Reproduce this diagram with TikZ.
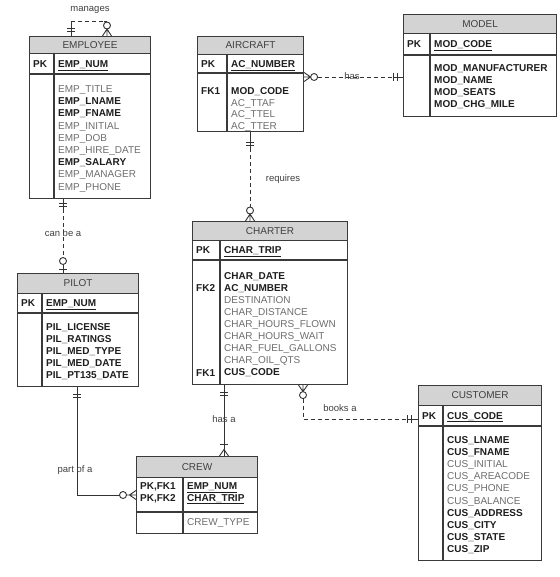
\documentclass[tikz,border=0pt]{standalone}
\usepackage{fontspec}
\setmainfont{Liberation Sans}
\usetikzlibrary{calc}
\definecolor{bord}{HTML}{3A3A3A}
\definecolor{hdrfill}{HTML}{D3D3D3}
\definecolor{hdrtext}{HTML}{404040}
\definecolor{gtext}{HTML}{6E6E6E}
\definecolor{btext}{HTML}{1E1E1E}
\definecolor{lnk}{HTML}{333333}
\newcommand{\Bf}{\color{btext}\bfseries}
\newcommand{\Gf}{\color{gtext}}
\tikzset{
  entbox/.style={draw=bord, line width=1.1pt, fill=white, inner sep=0pt, anchor=north west},
  hdrbox/.style={draw=bord, line width=1.1pt, fill=hdrfill, inner sep=0pt, anchor=north west,
                 text=hdrtext, font=\fontsize{10}{12}\selectfont},
  divline/.style={draw=bord, line width=1.1pt},
  fld/.style={anchor=base west, inner sep=0pt, font=\fontsize{10}{12}\selectfont},
  kfld/.style={fld, text=btext, font=\fontsize{10}{12}\selectfont\bfseries},
  rel/.style={draw=lnk, line width=0.9pt},
  reld/.style={rel, dash pattern=on 4pt off 3pt},
  opt/.style={draw=lnk, line width=0.9pt, fill=white},
  lbl/.style={inner sep=0pt, text=hdrtext, font=\fontsize{9.5}{11}\selectfont},
}
% #1 name, #2 x1, #3 top, #4 x2, #5 header bottom, #6 key row bottom, #7 bottom, #8 separator x, #9 title
\newcommand{\erent}[9]{%
  \node[entbox, minimum width={#4-#2}, minimum height={#7-#3}] (#1) at (#2,#3) {};
  \node[hdrbox, minimum width={#4-#2}, minimum height={#5-#3}] (#1-h) at (#2,#3) {#9};
  \draw[divline] (#2,#6) -- (#4,#6);
  \draw[divline] (#8,#5) -- (#8,#7);
}
% #1 prefix, #2 x, #3 first baseline, #4 step, #5 list
\newcommand{\erfields}[5]{%
  \foreach \t [count=\i] in {#5} \node[fld] (#1-\i) at (#2,{#3+(\i-1)*#4}) {\t};
}
\begin{document}
\begin{tikzpicture}[x=1pt,y=-1pt]
\fill[white] (0,0) rectangle (559,577);
\useasboundingbox (0,0) rectangle (559,577);

% ---------------- EMPLOYEE
\erent{emp}{29}{36}{150}{53}{74}{198}{54}{EMPLOYEE}
\node[kfld] (emp-pk) at (33,67.5) {PK};
\node[kfld] (emp-key) at (58,67.5) {\underline{EMP\_NUM}};
\erfields{emp-a}{58}{92.5}{12.2}{{\Gf EMP\_TITLE},{\Bf EMP\_LNAME},{\Bf EMP\_FNAME},{\Gf EMP\_INITIAL},{\Gf EMP\_DOB},{\Gf EMP\_HIRE\_DATE},{\Bf EMP\_SALARY},{\Gf EMP\_MANAGER},{\Gf EMP\_PHONE}}

% ---------------- AIRCRAFT
\erent{air}{197}{36}{303}{54}{73}{131}{227}{AIRCRAFT}
\node[kfld] (air-pk) at (201,67.5) {PK};
\node[kfld] (air-key) at (231,67.5) {\underline{AC\_NUMBER}};
\node[kfld] (air-fk) at (201,94.5) {FK1};
\erfields{air-a}{231}{94.5}{11.7}{{\Bf MOD\_CODE},{\Gf AC\_TTAF},{\Gf AC\_TTEL},{\Gf AC\_TTER}}

% ---------------- MODEL
\erent{mod}{403}{14}{556}{33}{55}{116}{430}{MODEL}
\node[kfld] (mod-pk) at (407,47.5) {PK};
\node[kfld] (mod-key) at (434,47.5) {\underline{MOD\_CODE}};
\erfields{mod-a}{434}{71.5}{12}{{\Bf MOD\_MANUFACTURER},{\Bf MOD\_NAME},{\Bf MOD\_SEATS},{\Bf MOD\_CHG\_MILE}}

% ---------------- CHARTER
\erent{cha}{192}{221}{347}{240}{260}{384}{220}{CHARTER}
\node[kfld] (cha-pk) at (196,253.5) {PK};
\node[kfld] (cha-key) at (224,253.5) {\underline{CHAR\_TRIP}};
\node[kfld] (cha-fk2) at (196,291.5) {FK2};
\node[kfld] (cha-fk1) at (196,376) {FK1};
\erfields{cha-a}{224}{279.5}{12.05}{{\Bf CHAR\_DATE},{\Bf AC\_NUMBER},{\Gf DESTINATION},{\Gf CHAR\_DISTANCE},{\Gf CHAR\_HOURS\_FLOWN},{\Gf CHAR\_HOURS\_WAIT},{\Gf CHAR\_FUEL\_GALLONS},{\Gf CHAR\_OIL\_QTS},{\Bf CUS\_CODE}}

% ---------------- PILOT
\erent{pil}{17}{273}{138}{293}{313}{386}{42}{PILOT}
\node[kfld] (pil-pk) at (21,306.5) {PK};
\node[kfld] (pil-key) at (46,306.5) {\underline{EMP\_NUM}};
\erfields{pil-a}{46}{330.5}{12}{{\Bf PIL\_LICENSE},{\Bf PIL\_RATINGS},{\Bf PIL\_MED\_TYPE},{\Bf PIL\_MED\_DATE},{\Bf PIL\_PT135\_DATE}}

% ---------------- CREW
\erent{crw}{136}{456}{257}{477}{512}{533}{183}{CREW}
\node[kfld] (crw-pk1) at (140,489.5) {PK,FK1};
\node[kfld] (crw-pk2) at (140,501) {PK,FK2};
\node[kfld] (crw-key1) at (187,489.5) {\underline{EMP\_NUM}};
\node[kfld] (crw-key2) at (187,501) {\underline{CHAR\_TRIP}};
\node[fld, text=gtext] (crw-a1) at (187,525.5) {CREW\_TYPE};

% ---------------- CUSTOMER
\erent{cus}{418}{385}{541}{405}{426}{560}{443}{CUSTOMER}
\node[kfld] (cus-pk) at (422,419) {PK};
\node[kfld] (cus-key) at (447,419) {\underline{CUS\_CODE}};
\erfields{cus-a}{447}{443.5}{12.1}{{\Bf CUS\_LNAME},{\Bf CUS\_FNAME},{\Gf CUS\_INITIAL},{\Gf CUS\_AREACODE},{\Gf CUS\_PHONE},{\Gf CUS\_BALANCE},{\Bf CUS\_ADDRESS},{\Bf CUS\_CITY},{\Bf CUS\_STATE},{\Bf CUS\_ZIP}}

% ================= relationships
% manages (EMPLOYEE -> EMPLOYEE)
\coordinate (m1) at ($(emp.north west)+(42,0)$);
\coordinate (m2) at ($(emp.north west)+(78,0)$);
\coordinate (m1t) at ($(m1)+(0,-15)$);
\coordinate (m2t) at (m1t -| m2);
\draw[rel] (m1) -- (m1t);
\draw[reld] (m1t) -- ($(m2t)+(-3.5,0)$);
\draw[rel] ($(m2t)+(-3.5,0)$) -- (m2t);
\draw[rel] ($(m1)+(-4,-5)$) -- ++(8,0) ($(m1)+(-4,-8)$) -- ++(8,0);
\draw[rel] ($(m2)+(0,-7)$) -- (m2) ($(m2)+(-4.5,0)$) -- ($(m2)+(0,-7)$) -- ($(m2)+(4.5,0)$);
\draw[opt] ($(m2)+(0,-10.5)$) circle[radius=3.5];
\node[lbl] (l-man) at (90,10) {manages};

% has (AIRCRAFT -> MODEL)
\coordinate (h1) at ($(air.north east)+(0,41)$);
\coordinate (h2) at (h1 -| mod.west);
\draw[rel] ($(h1)+(6.5,0)$) -- (h1) ($(h1)+(0,-4.5)$) -- ($(h1)+(6.5,0)$) -- ($(h1)+(0,4.5)$);
\draw[opt] ($(h1)+(10,0)$) circle[radius=3.5];
\draw[reld] ($(h1)+(13.5,0)$) -- ($(h2)+(-10,0)$);
\draw[rel] ($(h2)+(-10,0)$) -- (h2);
\draw[rel] ($(h2)+(-10,-4)$) -- ++(0,8) ($(h2)+(-6,-4)$) -- ++(0,8);
\node[lbl] (l-has) at (352,76.5) {has};

% requires (AIRCRAFT -> CHARTER)
\coordinate (r1) at ($(air.south west)+(53,0)$);
\coordinate (r2) at (r1 |- cha.north);
\draw[rel] (r1) -- ++(0,16);
\draw[rel] ($(r1)+(-4,10)$) -- ++(8,0) ($(r1)+(-4,13)$) -- ++(8,0);
\draw[reld] ($(r1)+(0,16)$) -- ($(r2)+(0,-14)$);
\draw[rel] ($(r2)+(0,-7)$) -- (r2) ($(r2)+(-4.5,0)$) -- ($(r2)+(0,-7)$) -- ($(r2)+(4.5,0)$);
\draw[opt] ($(r2)+(0,-10.5)$) circle[radius=3.5];
\node[lbl] (l-req) at (283,179) {requires};

% can be a (EMPLOYEE -> PILOT)
\coordinate (c1) at ($(emp.south west)+(34,0)$);
\coordinate (c2) at (c1 |- pil.north);
\draw[rel] (c1) -- ++(0,10);
\draw[rel] ($(c1)+(-4,4.5)$) -- ++(8,0) ($(c1)+(-4,7.5)$) -- ++(8,0);
\draw[reld] ($(c1)+(0,10)$) -- ($(c2)+(0,-15.5)$);
\draw[opt] ($(c2)+(0,-12)$) circle[radius=3.5];
\draw[rel] ($(c2)+(0,-8.5)$) -- (c2);
\draw[rel] ($(c2)+(-4,-4)$) -- ++(8,0);
\node[lbl] (l-can) at (63,233) {can be a};

% part of a (PILOT -> CREW)
\coordinate (p1) at ($(pil.south west)+(60,0)$);
\coordinate (p2) at ($(crw.north west)+(0,39)$);
\draw[rel] (p1) -- (p1 |- p2) -- ($(p2)+(-16.5,0)$);
\draw[rel] ($(p1)+(-4,7)$) -- ++(8,0) ($(p1)+(-4,10)$) -- ++(8,0);
\draw[opt] ($(p2)+(-13,0)$) circle[radius=3.5];
\draw[rel] ($(p2)+(-9.5,0)$) -- (p2) ($(p2)+(0,-4.5)$) -- ($(p2)+(-6.5,0)$) -- ($(p2)+(0,4.5)$);
\node[lbl] (l-part) at (75,470) {part of a};

% has a (CHARTER -> CREW)
\coordinate (a1) at ($(cha.south west)+(32,0)$);
\coordinate (a2) at (a1 |- crw.north);
\draw[rel] (a1) -- (a2);
\draw[rel] ($(a1)+(-4,7)$) -- ++(8,0) ($(a1)+(-4,10)$) -- ++(8,0);
\draw[rel] ($(a2)+(-4,-12)$) -- ++(8,0);
\draw[rel] ($(a2)+(-4.5,0)$) -- ($(a2)+(0,-6.5)$) -- ($(a2)+(4.5,0)$);
\node[lbl] (l-hasa) at (224,419) {has a};

% books a (CUSTOMER -> CHARTER)
\coordinate (b1) at ($(cha.south west)+(111,0)$);
\coordinate (b2) at ($(cus.north west)+(0,34)$);
\draw[rel] ($(b1)+(0,6.5)$) -- (b1) ($(b1)+(-4.5,0)$) -- ($(b1)+(0,6.5)$) -- ($(b1)+(4.5,0)$);
\draw[opt] ($(b1)+(0,10)$) circle[radius=3.5];
\draw[reld] ($(b1)+(0,13.5)$) -- (b1 |- b2) -- ($(b2)+(-11,0)$);
\draw[rel] ($(b2)+(-11,0)$) -- (b2);
\draw[rel] ($(b2)+(-11,-4)$) -- ++(0,8) ($(b2)+(-7,-4)$) -- ++(0,8);
\node[lbl] (l-books) at (340,408) {books a};
\end{tikzpicture}
\end{document}
